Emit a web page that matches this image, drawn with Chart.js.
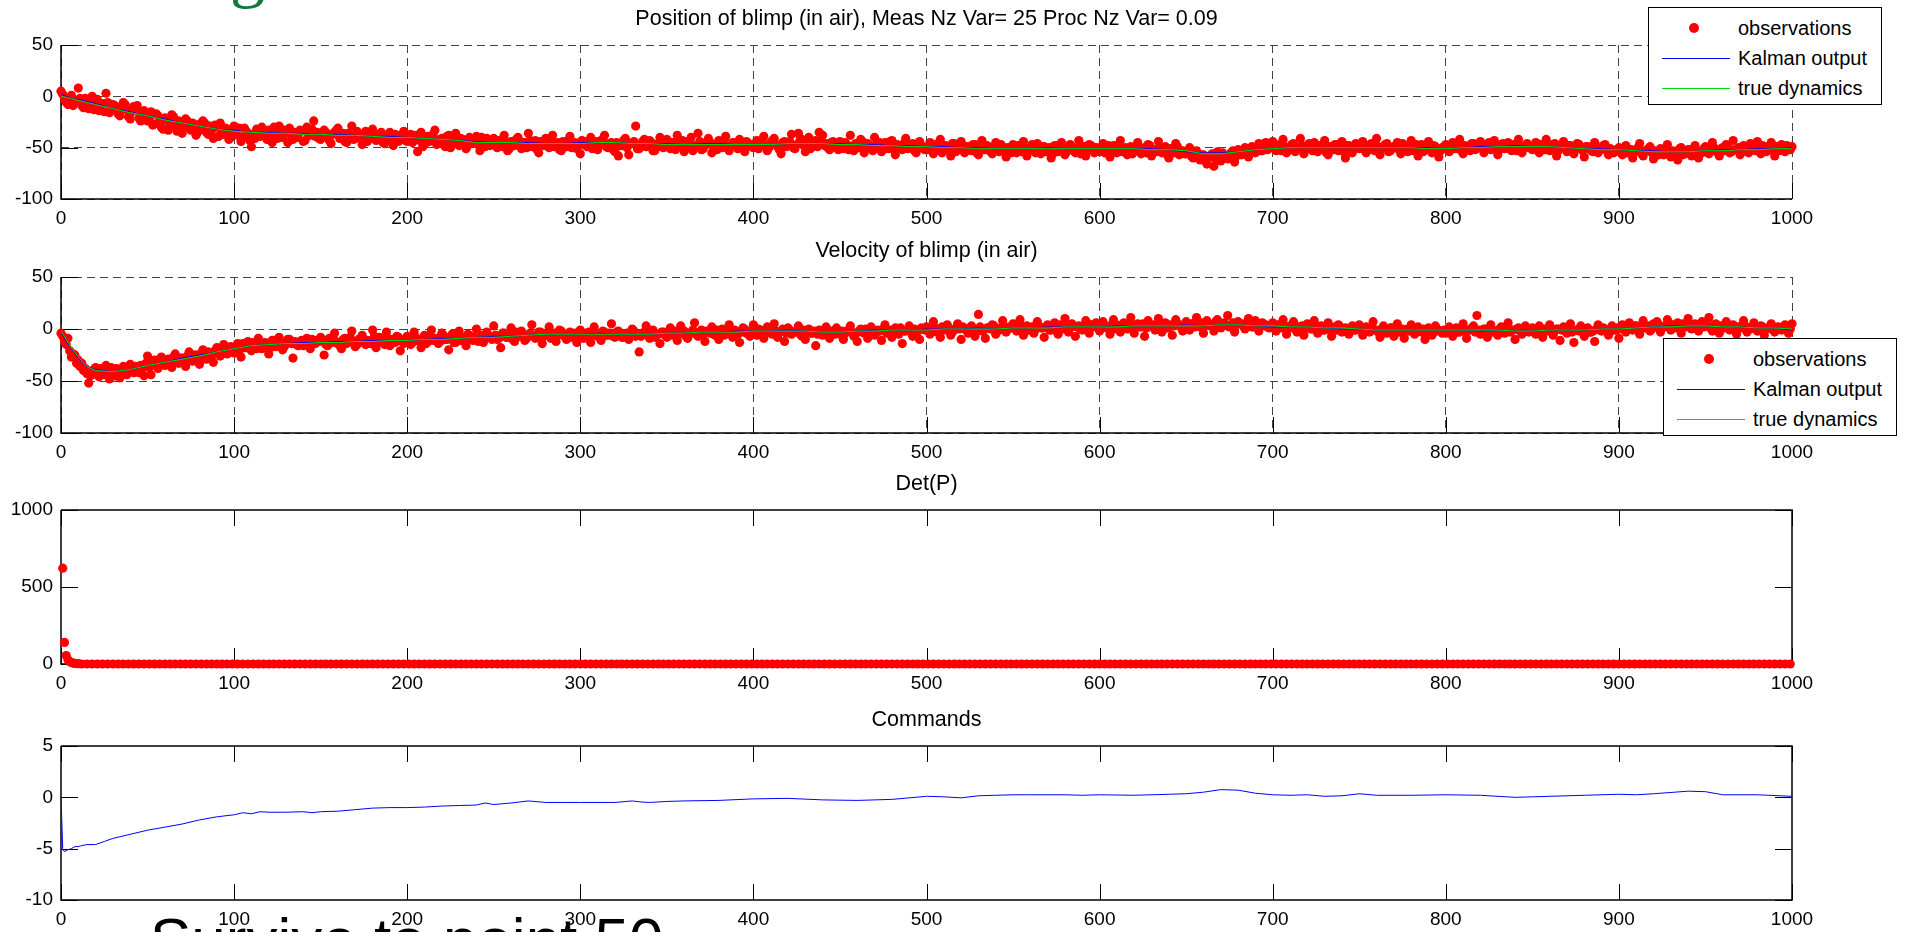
<!DOCTYPE html>
<html>
<head>
<meta charset="utf-8">
<script src="https://cdn.jsdelivr.net/npm/chart.js@4.4.1/dist/chart.umd.min.js"></script>
<style>
  html, body { margin: 0; padding: 0; background: #fff; }
  body { width: 1906px; height: 932px; overflow: hidden; position: relative; font-family: "Liberation Sans", Arial, sans-serif; }
  canvas { position: absolute; left: 0; }
  .legend { position: absolute; width: 232px; height: 96px; background: #fff; border: 1px solid #000; z-index: 2; }
  .row { position: absolute; left: 0; width: 100%; height: 24px; }
  .row .txt { position: absolute; left: 89px; top: 0; line-height: 24px; font-size: 20px; color: #000; white-space: nowrap; }
  .row .dot { position: absolute; left: 40px; top: 7px; width: 10px; height: 10px; border-radius: 50%; background: #ff0000; }
  .row .ln { position: absolute; left: 13px; top: 12px; width: 68px; height: 1px; }
  .slide { position: absolute; white-space: nowrap; line-height: 1; }
</style>
</head>
<body>
<div class="slide" style="left:230px;top:-64px;font-size:70px;font-family:'Liberation Serif',serif;color:#127a3e;">g</div>

<canvas id="posChart" width="1906" height="238" style="top:1px"></canvas>
<canvas id="velChart" width="1906" height="240" style="top:233px"></canvas>
<canvas id="detChart" width="1906" height="238" style="top:466px"></canvas>
<canvas id="cmdChart" width="1906" height="238" style="top:702px"></canvas>

<div class="legend" style="left:1648px;top:7px;">
  <div class="row" style="top:8px"><span class="dot"></span><span class="txt">observations</span></div>
  <div class="row" style="top:38px"><span class="ln" style="background:#0000ff"></span><span class="txt">Kalman output</span></div>
  <div class="row" style="top:68px"><span class="ln" style="background:#00e000"></span><span class="txt">true dynamics</span></div>
</div>
<div class="legend" style="left:1663px;top:338px;">
  <div class="row" style="top:8px"><span class="dot"></span><span class="txt">observations</span></div>
  <div class="row" style="top:38px"><span class="ln" style="background:#0000ff"></span><span class="txt">Kalman output</span></div>
  <div class="row" style="top:68px"><span class="ln" style="background:#00e000"></span><span class="txt">true dynamics</span></div>
</div>

<div class="slide" style="left:150px;top:909px;font-size:62px;font-family:'Liberation Sans',Arial,sans-serif;color:#000;">Survive to point 50</div>

<script>
// tick values
const xTickVals = [0, 100, 200, 300, 400, 500, 600, 700, 800, 900, 1000];
const posTickVals = [-100, -50, 0, 50];
const velTickVals = [-100, -50, 0, 50];
const detTickVals = [0, 500, 1000];
const cmdTickVals = [-10, -5, 0, 5];

// observations: even steps (x = 0, 2, ..., 1000) and odd steps (x = 1, 3, ..., 999)
const obsStep = 2;
const posObsEven = [
  5,-3,-8,1,-6,8,-9,-2,-12,0,-5,-14,-7,3,-16,-8,-11,-19,-6,-13,-22,-10,-9,-24,-14,
  -24,-15,-27,-19,-30,-21,-33,-18,-29,-24,-36,-22,-31,-26,-38,-27,-24,-35,-29,-41,-30,-26,-37,-32,-40,
  -29,-38,-44,-31,-36,-49,-41,-35,-30,-39,-33,-45,-36,-29,-40,-34,-31,-42,-37,-33,-44,-30,-38,-24,-35,
  -42,-33,-38,-46,-35,-31,-40,-44,-36,-29,-41,-38,-47,-34,-39,-32,-43,-37,-45,-40,-35,-48,-38,-42,-34,
  -44,-37,-42,-54,-35,-47,-39,-43,-33,-46,-41,-49,-38,-44,-36,-48,-42,-51,-40,-46,-39,-53,-44,-41,-48,
  -41,-50,-46,-38,-53,-44,-48,-40,-51,-45,-36,-49,-43,-55,-47,-41,-50,-38,-46,-52,-44,-49,-39,-47,-51,
  -56,-44,-49,-40,-47,-52,-43,-38,-50,-45,-54,-58,-48,-41,-57,-46,-29,-51,-44,-49,-43,-53,-47,-40,-50,
  -42,-51,-45,-38,-49,-54,-44,-40,-48,-36,-52,-46,-41,-55,-47,-43,-50,-39,-53,-45,-48,-42,-51,-44,-47,
  -50,-43,-48,-39,-53,-45,-41,-49,-56,-44,-47,-37,-51,-36,-42,-54,-40,-48,-43,-35,-38,-46,-52,-44,-49,
  -44,-51,-47,-38,-53,-48,-42,-55,-46,-50,-40,-49,-54,-45,-51,-43,-57,-48,-52,-41,-50,-46,-55,-44,-49,
  -52,-45,-56,-48,-42,-53,-50,-58,-46,-51,-44,-55,-49,-53,-47,-57,-43,-52,-50,-56,-45,-54,-49,-59,-51,
  -47,-55,-51,-44,-58,-50,-53,-46,-56,-49,-52,-60,-48,-54,-45,-57,-51,-49,-55,-43,-53,-58,-47,-52,-50,
  -54,-46,-52,-59,-48,-55,-43,-51,-57,-49,-53,-45,-56,-50,-47,-58,-52,-44,-55,-49,-60,-51,-46,-57,-53,
  -56,-50,-60,-53,-62,-57,-66,-59,-68,-54,-63,-58,-61,-55,-64,-52,-57,-50,-59,-49,-55,-46,-53,-45,-50,
  -44,-53,-47,-42,-55,-50,-46,-52,-41,-56,-48,-51,-45,-54,-49,-43,-57,-50,-47,-53,-44,-60,-48,-55,-46,
  -51,-44,-55,-48,-52,-41,-57,-49,-46,-53,-50,-45,-56,-48,-54,-43,-51,-58,-47,-52,-44,-55,-49,-59,-50,
  -47,-54,-45,-51,-42,-56,-49,-53,-46,-50,-44,-55,-48,-52,-43,-57,-47,-51,-45,-53,-49,-42,-55,-48,-50,
  -52,-45,-55,-49,-42,-53,-47,-58,-50,-44,-54,-48,-56,-46,-51,-59,-49,-53,-45,-55,-50,-47,-57,-52,-54,
  -50,-57,-48,-55,-60,-52,-46,-58,-53,-49,-61,-55,-51,-57,-47,-59,-54,-62,-50,-56,-52,-58,-48,-60,-55,
  -49,-56,-45,-53,-58,-50,-47,-55,-43,-52,-57,-48,-54,-46,-51,-44,-56,-49,-53,-45,-58,-50,-47,-54,-51,
  -49
];
const posObsOdd = [
  2,-6,-1,-9,-4,-2,-11,-5,-8,-13,-3,-10,-15,-6,-12,-9,-17,-13,-8,-20,-15,-12,-21,-16,-19,
  -22,-28,-17,-25,-32,-23,-27,-20,-34,-26,-30,-24,-33,-28,-35,-30,-26,-37,-33,-28,-39,-35,-31,-42,-36,
  -36,-31,-40,-34,-43,-37,-32,-39,-35,-42,-38,-30,-41,-36,-33,-45,-38,-35,-40,-34,-43,-37,-32,-39,-41,
  -39,-35,-43,-37,-33,-41,-36,-45,-38,-42,-34,-40,-37,-44,-36,-41,-39,-35,-46,-38,-42,-37,-44,-40,-43,
  -41,-45,-38,-43,-49,-40,-44,-37,-47,-42,-45,-39,-50,-43,-46,-41,-44,-48,-42,-45,-47,-40,-49,-44,-46,
  -47,-43,-49,-44,-51,-46,-42,-48,-45,-50,-43,-47,-52,-44,-48,-46,-41,-49,-45,-53,-47,-43,-50,-45,-48,
  -43,-48,-45,-51,-44,-47,-42,-49,-46,-52,-45,-48,-43,-50,-46,-44,-51,-47,-42,-48,-45,-53,-46,-49,-44,
  -49,-45,-52,-47,-43,-50,-46,-53,-48,-44,-51,-47,-45,-49,-52,-46,-43,-50,-48,-45,-51,-47,-54,-46,-49,
  -46,-51,-44,-48,-50,-43,-47,-52,-45,-49,-44,-50,-47,-42,-48,-45,-51,-46,-49,-43,-48,-50,-45,-47,-52,
  -48,-45,-52,-49,-46,-50,-44,-51,-48,-53,-47,-45,-50,-48,-44,-52,-47,-49,-46,-51,-48,-53,-47,-50,-52,
  -49,-53,-47,-51,-55,-48,-52,-46,-54,-50,-48,-53,-51,-47,-55,-50,-52,-48,-54,-49,-51,-47,-53,-50,-55,
  -52,-48,-54,-50,-53,-47,-55,-51,-49,-54,-50,-56,-48,-52,-50,-54,-47,-53,-51,-56,-49,-52,-48,-55,-51,
  -50,-55,-48,-53,-51,-47,-54,-50,-52,-56,-49,-53,-51,-55,-48,-52,-54,-50,-53,-57,-51,-55,-49,-53,-56,
  -54,-58,-55,-60,-57,-63,-59,-56,-61,-58,-55,-60,-57,-53,-58,-55,-52,-56,-51,-54,-50,-53,-49,-52,-48,
  -51,-48,-53,-49,-52,-47,-54,-50,-48,-52,-46,-53,-50,-48,-51,-55,-49,-52,-47,-51,-54,-48,-52,-50,-47,
  -48,-52,-50,-46,-53,-49,-51,-47,-54,-50,-48,-52,-46,-51,-49,-53,-47,-50,-54,-49,-52,-48,-51,-53,-49,
  -52,-49,-51,-47,-53,-48,-50,-46,-52,-49,-47,-51,-45,-50,-48,-52,-46,-49,-51,-47,-53,-48,-50,-46,-49,
  -48,-51,-47,-52,-49,-50,-46,-53,-49,-51,-48,-52,-50,-47,-53,-49,-51,-54,-50,-52,-48,-53,-51,-55,-52,
  -53,-51,-55,-52,-54,-50,-56,-53,-51,-55,-53,-57,-52,-54,-56,-53,-55,-51,-57,-54,-52,-56,-53,-55,-51,
  -54,-52,-50,-55,-51,-53,-49,-54,-52,-50,-53,-51,-55,-49,-53,-51,-48,-54,-50,-52,-49,-53,-51,-48,-52
];
const velObsEven = [
  -4,-12,-9,-27,-25,-30,-33,-38,-52,-44,-37,-46,-41,-35,-48,-43,-38,-47,-36,-44,-34,-42,-39,-35,-45,
  -26,-44,-30,-38,-27,-35,-29,-37,-24,-33,-28,-36,-22,-31,-25,-34,-20,-29,-23,-32,-18,-26,-15,-24,-17,
  -23,-14,-27,-18,-12,-21,-15,-9,-19,-13,-24,-11,-17,-8,-20,-14,-10,-28,-15,-12,-16,-9,-19,-14,-11,
  -8,-25,-16,-11,-4,-14,-19,-9,-13,-2,-17,-10,-6,-15,-12,-1,-18,-8,-13,-3,-16,-10,-7,-21,-14,
  -7,-15,-3,-11,-18,-6,-12,-1,-9,-14,-4,-10,-20,-5,-13,-2,-8,-16,-6,-11,0,-9,-13,-3,-7,
  3,-10,-18,-4,-8,1,-12,-6,-2,-11,-7,4,-9,-3,-14,-5,2,-8,-12,-1,-6,-10,-3,-7,-13,
  -1,-9,-4,-13,2,-7,-11,-3,-6,5,-8,-2,-8,-5,-10,0,-7,-22,-4,3,-9,-1,-6,-14,-3,
  -8,1,-5,-11,3,-2,-9,-4,6,-7,-1,-12,-3,2,-6,-10,0,-5,4,-8,-2,-13,1,-4,-7,
  4,-6,-1,-9,2,-4,5,-8,-2,-12,1,-5,-3,3,-7,-10,0,-4,-16,-1,-6,2,-9,-3,1,
  -5,-10,-2,3,-7,-12,0,-4,-9,2,-6,-1,-11,4,-3,-8,1,-5,-14,-2,3,-7,-1,-10,0,
  2,-5,7,-3,-8,1,4,-6,-1,5,-10,0,-4,3,-7,14,-2,-9,1,4,-5,-1,8,-3,2,
  5,-2,9,-6,3,0,-4,7,1,-8,4,-1,6,-5,2,10,-3,5,-7,3,-1,8,-4,4,6,
  -2,7,1,-5,9,4,-3,6,0,11,-4,5,2,-7,8,3,-1,10,-3,6,1,-6,9,4,-2,
  7,-1,5,11,2,-4,8,4,-2,9,1,6,13,3,-3,7,5,0,10,2,8,-2,6,4,1,
  6,-2,4,9,-5,1,7,-3,2,-6,5,0,8,-4,3,-1,6,-7,2,4,-3,1,-5,3,-1,
  4,-6,2,-3,7,-1,-8,3,-4,1,-7,5,-2,-9,0,4,-5,2,-3,-10,1,-6,3,-2,-4,
  -4,2,-7,1,-3,5,-9,-1,3,13,-5,0,-8,4,-2,-6,2,-4,6,-1,-10,1,-5,3,-3,
  1,-5,3,-8,-2,4,-6,0,-11,2,-4,5,-13,-1,3,-7,1,-3,-12,4,-2,0,-6,3,-1,
  -9,4,-3,6,-1,3,-5,8,1,-2,5,7,-3,2,9,-1,4,6,-4,3,10,0,5,-2,7,
  3,11,-2,5,-4,1,7,-1,4,-5,2,8,-3,0,6,-2,3,-6,1,5,-3,2,-1,4,-4,
  5
];
const velObsOdd = [
  -7,-15,-21,-24,-33,-36,-40,-43,-45,-39,-42,-38,-44,-40,-37,-45,-41,-39,-43,-37,-40,-36,-42,-38,-33,
  -37,-31,-35,-29,-34,-30,-33,-27,-31,-28,-32,-26,-30,-25,-28,-23,-27,-22,-26,-21,-24,-19,-23,-18,-21,
  -17,-21,-14,-18,-15,-13,-19,-12,-16,-14,-18,-11,-15,-13,-17,-10,-14,-12,-16,-11,-13,-15,-10,-14,-12,
  -11,-15,-9,-13,-12,-16,-10,-14,-8,-12,-15,-9,-13,-11,-14,-7,-12,-10,-15,-9,-11,-13,-8,-12,-10,
  -9,-13,-8,-12,-10,-14,-7,-11,-9,-12,-6,-10,-8,-13,-7,-11,-9,-5,-10,-8,-12,-6,-9,-7,-10,
  -6,-9,-4,-8,-6,-10,-3,-7,-5,-9,-4,-6,-8,-3,-7,-5,-9,-4,-6,-2,-7,-5,-8,-4,-6,
  -4,-7,-3,-6,-5,-8,-2,-6,-4,-7,-3,-5,-8,-4,-6,-2,-5,-7,-3,-6,-4,-8,-5,-3,-6,
  -4,-6,-2,-5,-3,-7,-4,-1,-5,-3,-6,-2,-4,-5,-1,-3,-6,-2,-4,-1,-5,-3,0,-4,-2,
  -3,0,-4,-2,-1,-5,-2,-3,0,-4,-1,-3,-2,-5,-1,-3,-4,-2,-5,-3,-1,-4,-2,-5,-3,
  -2,-4,-1,-3,-5,-2,-3,0,-4,-1,-3,-2,0,-4,-1,-2,-3,1,-2,-1,-3,0,-2,1,-1,
  0,-2,1,-1,2,-1,0,-3,1,0,2,-1,1,-2,0,2,-1,1,0,3,-1,1,2,0,1,
  2,0,3,1,-1,2,0,3,1,2,-1,3,1,4,0,2,1,3,2,0,3,1,4,2,3,
  1,3,2,4,0,3,2,5,1,3,4,2,5,1,3,4,2,6,3,1,4,3,5,2,4,
  3,5,2,4,6,3,5,4,7,3,5,4,2,6,4,5,3,6,4,2,5,3,4,2,3,
  2,4,1,3,2,4,0,2,3,1,2,0,3,1,-1,2,0,1,-1,2,0,-2,1,-1,0,
  -1,1,-2,0,-1,-3,0,-2,-1,1,-2,-3,0,-1,-2,1,-3,-1,0,-2,-1,-3,0,-2,-1,
  -2,0,-1,-3,0,-2,-1,1,-3,-1,-2,0,-1,-3,-2,0,-1,-2,-3,-1,0,-2,-3,-1,-2,
  -1,-3,-2,0,-1,-3,-2,0,-1,-2,0,-3,-1,-2,0,-1,-3,-2,0,-1,1,-2,0,-1,1,
  0,2,-1,1,3,0,2,1,3,0,2,4,1,3,2,4,1,3,5,2,4,3,1,4,2,
  3,1,4,2,3,1,3,2,0,2,1,3,0,2,1,-1,2,0,1,-1,1,0,2,-1,0
];

// Kalman output and true dynamics, read at these steps
const lineX = [0,3,6,10,15,20,30,40,50,60,70,80,90,
  100,110,120,130,140,150,160,170,180,190,200,210,220,230,240,250,260,270,280,290,
  300,310,320,330,340,350,360,370,380,390,400,410,420,430,440,450,460,470,480,490,
  500,510,520,530,540,550,560,570,580,590,600,610,620,630,640,650,660,670,680,690,
  700,710,720,730,740,750,760,770,780,790,800,810,820,830,840,850,860,870,880,890,
  900,910,920,930,940,950,960,970,980,990,1000];
const posTrue = [0,-1,-2,-4,-6,-8,-12,-16,-19,-23,-26,-29,-32,
  -34,-35,-36,-36,-37,-37,-38,-38,-39,-40,-40,-41,-42,-43,-45,-45,-45,-46,-46,-46,
  -46,-45,-45,-46,-46,-47,-47,-47,-47,-47,-47,-47,-46,-46,-46,-47,-47,-48,-48,-49,
  -49,-50,-50,-51,-51,-51,-51,-51,-51,-51,-51,-51,-51,-52,-52,-53,-56,-56,-54,-52,
  -51,-50,-50,-50,-50,-50,-50,-50,-50,-51,-51,-50,-50,-49,-49,-49,-49,-50,-51,-52,
  -52,-53,-54,-54,-54,-53,-53,-52,-52,-51,-51];
const posKalman = [2,0,-2,-3,-5,-7,-12,-15,-19,-22,-26,-29,-32,
  -33,-35,-35,-36,-36,-37,-37,-38,-39,-39,-40,-41,-42,-43,-44,-45,-45,-45,-46,-46,
  -45,-45,-45,-46,-46,-46,-47,-46,-46,-47,-47,-47,-46,-46,-46,-46,-47,-47,-48,-48,
  -49,-49,-50,-50,-51,-51,-51,-50,-51,-51,-51,-51,-51,-51,-52,-54,-55,-55,-54,-52,
  -51,-50,-50,-50,-50,-50,-50,-50,-50,-50,-51,-50,-49,-49,-48,-49,-49,-50,-51,-51,
  -52,-53,-53,-54,-54,-53,-52,-52,-51,-51,-50];
const velTrue = [-2,-10,-18,-27,-36,-40,-41,-39,-35,-32,-29,-26,-22,
  -19,-16,-15,-14,-14,-13,-13,-12,-12,-11,-11,-10,-10,-9,-8,-8,-7,-6,-5,-5,
  -5,-5,-5,-5,-5,-4,-4,-3,-3,-3,-2,-2,-2,-2,-3,-3,-2,-2,-1,-1,
  -1,0,0,0,0,1,1,1,2,2,2,2,3,3,3,3,3,4,4,3,
  3,2,2,1,1,0,-1,-1,-1,-1,-1,-1,-1,-1,-2,-2,-1,-1,-1,0,
  0,1,2,2,3,3,2,2,1,1,0];
const velKalman = [-3,-12,-19,-28,-36,-39,-41,-39,-35,-32,-28,-25,-22,
  -19,-16,-15,-14,-13,-13,-12,-12,-11,-11,-11,-10,-9,-9,-8,-7,-7,-6,-5,-5,
  -5,-4,-5,-5,-5,-4,-4,-3,-3,-2,-2,-2,-1,-2,-3,-3,-2,-1,-1,-1,
  0,0,0,1,0,1,1,2,2,2,2,3,3,3,3,4,3,4,4,3,
  2,2,2,1,0,0,-1,-1,-1,-1,-1,-1,-2,-1,-2,-2,-1,-1,-1,0,
  0,1,2,3,3,3,2,2,1,1,-1];

// Det(P): first steps, then every 3 steps from x = 12
const detHeadX = [1,2,3,4,5,6,7,8,9,10];
const detHead = [622,140,55,28,15,9,6,4,3,2];
const detTailStart = 12, detTailStep = 3;
const detTail = [
  0,0,0,0,0,0,0,0,0,0,0,0,0,0,0,0,0,0,0,0,0,0,0,0,0,0,0,0,0,0,0,0,0,
  0,0,0,0,0,0,0,0,0,0,0,0,0,0,0,0,0,0,0,0,0,0,0,0,0,0,0,0,0,0,0,0,0,
  0,0,0,0,0,0,0,0,0,0,0,0,0,0,0,0,0,0,0,0,0,0,0,0,0,0,0,0,0,0,0,0,0,
  0,0,0,0,0,0,0,0,0,0,0,0,0,0,0,0,0,0,0,0,0,0,0,0,0,0,0,0,0,0,0,0,0,
  0,0,0,0,0,0,0,0,0,0,0,0,0,0,0,0,0,0,0,0,0,0,0,0,0,0,0,0,0,0,0,0,0,
  0,0,0,0,0,0,0,0,0,0,0,0,0,0,0,0,0,0,0,0,0,0,0,0,0,0,0,0,0,0,0,0,0,
  0,0,0,0,0,0,0,0,0,0,0,0,0,0,0,0,0,0,0,0,0,0,0,0,0,0,0,0,0,0,0,0,0,
  0,0,0,0,0,0,0,0,0,0,0,0,0,0,0,0,0,0,0,0,0,0,0,0,0,0,0,0,0,0,0,0,0,
  0,0,0,0,0,0,0,0,0,0,0,0,0,0,0,0,0,0,0,0,0,0,0,0,0,0,0,0,0,0,0,0,0,
  0,0,0,0,0,0,0,0,0,0,0,0,0,0,0,0,0,0,0,0,0,0,0,0,0,0,0,0,0,0,0,0,0
];

// Commands
const cmdX = [0,1,2,4,6,8,10,12,15,20,
  25,30,40,50,60,70,80,90,100,105,
  110,115,120,130,140,145,150,160,170,180,
  190,200,210,220,230,240,245,250,260,270,
  280,290,300,320,330,335,340,350,360,380,
  400,420,440,460,480,490,500,510,520,530,
  540,550,560,580,590,600,620,640,650,660,
  670,680,690,700,710,720,730,740,750,760,
  780,800,820,840,850,860,880,900,910,920,
  940,950,960,980,1000];
const cmdY = [0,-5.0,-5.3,-5.1,-5.0,-4.8,-4.8,-4.7,-4.6,-4.6,
  -4.3,-4.0,-3.6,-3.2,-2.9,-2.6,-2.2,-1.9,-1.7,-1.5,
  -1.6,-1.4,-1.45,-1.45,-1.4,-1.5,-1.4,-1.35,-1.2,-1.05,
  -1.0,-1.0,-0.95,-0.85,-0.8,-0.75,-0.55,-0.7,-0.55,-0.35,
  -0.5,-0.5,-0.5,-0.5,-0.35,-0.45,-0.5,-0.4,-0.35,-0.3,
  -0.15,-0.1,-0.25,-0.3,-0.2,-0.05,0.1,0.05,-0.05,0.15,
  0.2,0.25,0.25,0.25,0.2,0.25,0.2,0.3,0.35,0.5,
  0.75,0.7,0.4,0.25,0.2,0.25,0.1,0.15,0.35,0.2,
  0.2,0.25,0.2,0.0,0.05,0.1,0.2,0.3,0.25,0.35,
  0.6,0.55,0.25,0.25,0.1];

const RED = '#ff0000', BLUE = '#0000ff', GREEN = '#00e000';

Chart.defaults.font.family = "'Liberation Sans', Arial, sans-serif";
Chart.defaults.font.size = 19;
Chart.defaults.color = '#000';

// box, inward ticks and title the way matlab draws them
const matlabAxes = {
  id: 'matlabAxes',
  beforeDatasetsDraw(chart, args, opts) {
    const { ctx, chartArea: a, scales: { x, y } } = chart;
    ctx.save();
    ctx.strokeStyle = '#000';
    ctx.lineWidth = 1;
    ctx.beginPath();
    x.ticks.forEach(t => {
      const px = Math.round(x.getPixelForValue(t.value)) + 0.5;
      ctx.moveTo(px, a.bottom); ctx.lineTo(px, a.bottom - 16);
      if (opts.box) { ctx.moveTo(px, a.top); ctx.lineTo(px, a.top + 16); }
    });
    y.ticks.forEach(t => {
      const py = Math.round(y.getPixelForValue(t.value)) + 0.5;
      ctx.moveTo(a.left, py); ctx.lineTo(a.left + 17, py);
      if (opts.box) { ctx.moveTo(a.right, py); ctx.lineTo(a.right - 17, py); }
    });
    ctx.stroke();
    ctx.lineWidth = 1.5;
    ctx.beginPath();
    ctx.moveTo(a.left, a.top); ctx.lineTo(a.left, a.bottom); ctx.lineTo(a.right, a.bottom);
    if (opts.box) { ctx.lineTo(a.right, a.top); ctx.lineTo(a.left, a.top); }
    ctx.stroke();
    ctx.restore();
  },
  afterDraw(chart, args, opts) {
    const { ctx, chartArea: a } = chart;
    ctx.save();
    ctx.font = "21.5px 'Liberation Sans', Arial, sans-serif";
    ctx.fillStyle = '#000';
    ctx.textAlign = 'center';
    ctx.textBaseline = 'middle';
    ctx.fillText(opts.title, (a.left + a.right) / 2, a.top - 26);
    ctx.restore();
  }
};

function toPoints(xs, ys) {
  return ys.map((v, i) => ({ x: xs[i], y: v }));
}
function obsPoints(even, odd) {
  const pts = even.map((v, i) => ({ x: i * obsStep, y: v }));
  return pts.concat(odd.map((v, i) => ({ x: 1 + i * obsStep, y: v })));
}

function makePlot(id, title, yTicks, datasets, withGrid, withBox) {
  return new Chart(document.getElementById(id), {
    type: 'scatter',
    data: { datasets },
    options: {
      responsive: false,
      animation: false,
      events: [],
      layout: { padding: { top: 44, right: 114, left: 0, bottom: 0 } },
      plugins: {
        legend: { display: false },
        tooltip: { enabled: false },
        matlabAxes: { title: title, box: withBox }
      },
      scales: {
        x: {
          type: 'linear', min: xTickVals[0], max: xTickVals[xTickVals.length - 1],
          afterBuildTicks: s => { s.ticks = xTickVals.map(v => ({ value: v })); },
          afterFit: s => { s.height = 40; },
          ticks: { padding: 8, maxRotation: 0, autoSkip: false, callback: v => String(v) },
          grid: { display: withGrid, color: '#444', lineWidth: 1, drawTicks: false },
          border: { display: false, dash: [8, 5] }
        },
        y: {
          type: 'linear', min: yTicks[0], max: yTicks[yTicks.length - 1],
          afterBuildTicks: s => { s.ticks = yTicks.map(v => ({ value: v })); },
          afterFit: s => { s.width = 61; },
          ticks: { padding: 8, autoSkip: false, callback: v => String(v) },
          grid: { display: withGrid, color: '#444', lineWidth: 1, drawTicks: false },
          border: { display: false, dash: [8, 5] }
        }
      }
    },
    plugins: [matlabAxes]
  });
}

function trio(even, odd, kal, tru) {
  return [
    { label: 'true dynamics', data: toPoints(lineX, tru), showLine: true, borderColor: GREEN, borderWidth: 1, pointRadius: 0 },
    { label: 'Kalman output', data: toPoints(lineX, kal), showLine: true, borderColor: BLUE, borderWidth: 1, pointRadius: 0 },
    { label: 'observations', data: obsPoints(even, odd), backgroundColor: RED, borderWidth: 0, pointRadius: 4.6, clip: false }
  ];
}

makePlot('posChart', 'Position of blimp (in air), Meas Nz Var= 25 Proc Nz Var= 0.09', posTickVals,
  trio(posObsEven, posObsOdd, posKalman, posTrue), true, false);
makePlot('velChart', 'Velocity of blimp (in air)', velTickVals,
  trio(velObsEven, velObsOdd, velKalman, velTrue), true, false);

const detPoints = toPoints(detHeadX, detHead)
  .concat(detTail.map((v, i) => ({ x: detTailStart + i * detTailStep, y: v })));
makePlot('detChart', 'Det(P)', detTickVals,
  [{ label: 'Det(P)', data: detPoints, backgroundColor: RED, borderWidth: 0, pointRadius: 4.6, clip: false }], false, true);

makePlot('cmdChart', 'Commands', cmdTickVals,
  [{ label: 'Commands', data: toPoints(cmdX, cmdY), showLine: true, borderColor: BLUE, borderWidth: 1, pointRadius: 0 }], false, true);
</script>
</body>
</html>
